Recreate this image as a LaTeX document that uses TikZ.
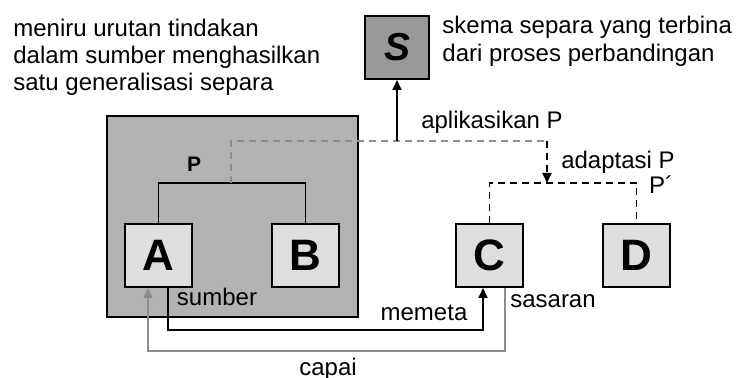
\documentclass[tikz,border=0pt]{standalone}
\usepackage{fontspec}
\setmainfont{Liberation Sans}
\usetikzlibrary{arrows.meta}

\definecolor{outergray}{gray}{0.70}
\definecolor{boxgray}{gray}{0.87}
\definecolor{schemagray}{gray}{0.60}
\definecolor{linegray}{gray}{0.55}

\begin{document}
\begin{tikzpicture}[x=0.5pt,y=-0.5pt,
    letterbox/.style={draw,line width=1pt,fill=boxgray,minimum width=33.5pt,minimum height=31.5pt,inner sep=0pt,font=\fontsize{22}{22}\selectfont\bfseries},
    arr/.style={-{Triangle[width=4.5pt,length=5pt]}},
    conn/.style={line width=0.9pt},
    dashconn/.style={line width=0.9pt,dash pattern=on 3.5pt off 2.5pt},
    txt/.style={anchor=base,inner sep=0pt,font=\fontsize{12}{13.5}\selectfont}]
  \useasboundingbox (0,0) rectangle (737,378);

  % source domain with its two objects
  \node[draw,line width=1pt,fill=outergray,minimum width=125.5pt,minimum height=100.5pt] (source) at (232.5,216.5) {};
  \node[letterbox] (A) at (158.5,255.5) {A};
  \node[letterbox] (B) at (305.5,255.5) {B};
  \node[letterbox] (C) at (489.5,255.5) {C};
  \node[letterbox] (D) at (636.5,255.5) {D};
  \node[letterbox,fill=schemagray,minimum width=32pt,font=\fontsize{19.5}{20}\selectfont\bfseries\itshape] (S) at (397,47.5) {S};

  \coordinate (jP) at (231,183);
  \coordinate (bendL) at (231,141);
  \coordinate (bendR) at (547,141);
  \coordinate (jQ) at (547,183);

  % relation P and its adaptation P'
  \draw[conn] (A.north) |- (jP) -| (B.north);
  \draw[dashconn,linegray] (jP) -- (bendL) -- (bendR);
  \draw[dashconn,arr] (bendR) -- (jQ);
  \draw[dashconn] (C.north) |- (jQ) -| (D.north);
  \draw[conn,arr] (S.south |- bendL) -- (S.south);

  % mapping and back
  \draw[conn,arr] ([xshift=4.75pt]A.south) -- ++(0,42) -| ([xshift=-3.25pt]C.south);
  \draw[conn,linegray,arr] ([xshift=7.75pt]C.south) -- ++(0,63) -| ([xshift=-5.25pt]A.south);

  \node[txt,font=\fontsize{10.5}{12}\selectfont\bfseries] (pLbl) at (194,172) {P};
  \node[txt] (sumberLbl) at (217,306) {sumber};
  \node[txt] (memetaLbl) at (424,321) {memeta};
  \node[txt] (capaiLbl) at (328,375) {capai};
  \node[txt] (sasaranLbl) at (553,308) {sasaran};
  \node[txt] (aplikasiLbl) at (492,129) {aplikasikan P};
  \node[txt] (adaptasiLbl) at (618,169) {adaptasi P};
  \node[txt] (pPrimeLbl) at (661,194) {P´};

  \node[anchor=north west,align=left,inner sep=0pt,font=\fontsize{12}{13.5}\selectfont] (noteLeft) at (13,18.5)
    {meniru urutan tindakan\\dalam sumber menghasilkan\\satu generalisasi separa};
  \node[anchor=north west,align=left,inner sep=0pt,font=\fontsize{12}{14}\selectfont] (noteRight) at (442,15.5)
    {skema separa yang terbina\\dari proses perbandingan};
\end{tikzpicture}
\end{document}
